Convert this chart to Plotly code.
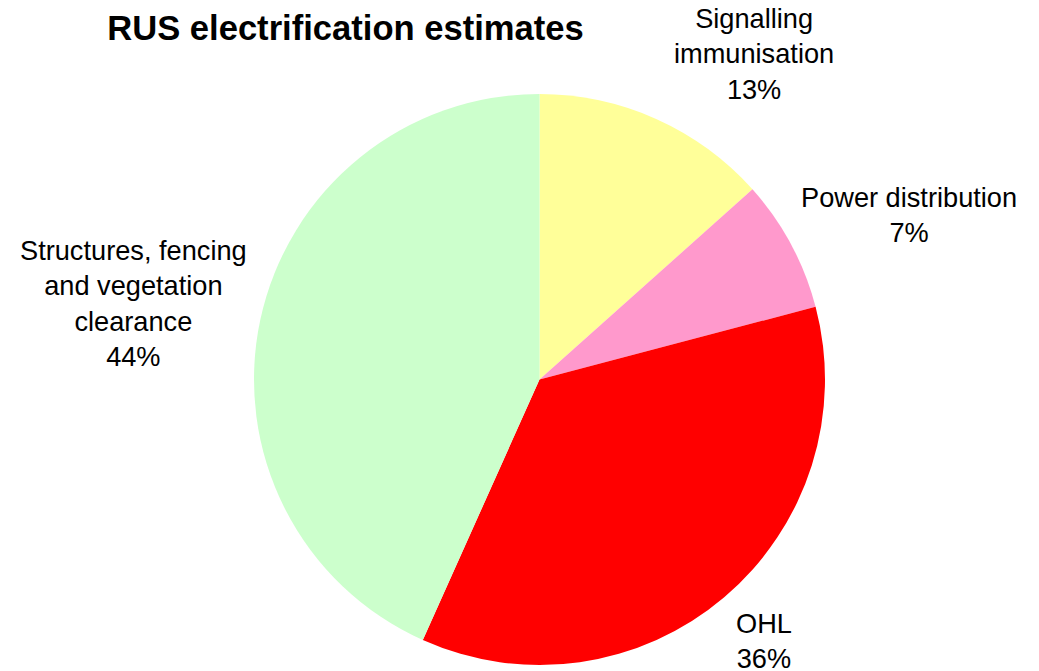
import plotly.graph_objects as go

categories = ["Signalling immunisation", "Power distribution", "OHL", "Structures, fencing and vegetation clearance"]
label_lines = ["Signalling<br>immunisation", "Power distribution", "OHL", "Structures, fencing<br>and vegetation<br>clearance"]
values = [13.4, 7.5, 35.8, 43.3]
shown_pct = ["13%", "7%", "36%", "44%"]
colors = ["#FFFF99", "#FF99CC", "#FF0000", "#CCFFCC"]

# label placement (pixel centre of each label block)
label_pos = [(754, 54), (909, 215), (764, 641), (133, 303)]

W, H = 1039, 671

fig = go.Figure(go.Pie(
    labels=categories,
    values=values,
    sort=False,
    direction="clockwise",
    rotation=0,
    marker=dict(colors=colors, line=dict(width=0)),
    textinfo="none",
    hoverinfo="label+percent",
    showlegend=False,
    domain=dict(x=[254 / W, 825 / W], y=[1 - 665 / H, 1 - 94 / H]),
))

for text, pct, (px, py) in zip(label_lines, shown_pct, label_pos):
    fig.add_annotation(
        text=f"{text}<br>{pct}",
        x=px / W, y=1 - py / H, xref="paper", yref="paper",
        xanchor="center", yanchor="middle", showarrow=False,
        align="center",
        font=dict(family="Liberation Sans, Arial, sans-serif", size=27.2, color="#000000"),
    )

fig.update_layout(
    width=W, height=H,
    margin=dict(l=0, r=0, t=0, b=0),
    paper_bgcolor="white", plot_bgcolor="white",
    title=dict(
        text="<b>RUS electrification estimates</b>",
        x=345.5 / W, xanchor="center", y=1 - 28 / H, yanchor="middle",
        font=dict(family="Liberation Sans, Arial, sans-serif", size=34.6, color="#000000"),
    ),
)

fig.write_html("out.html")
